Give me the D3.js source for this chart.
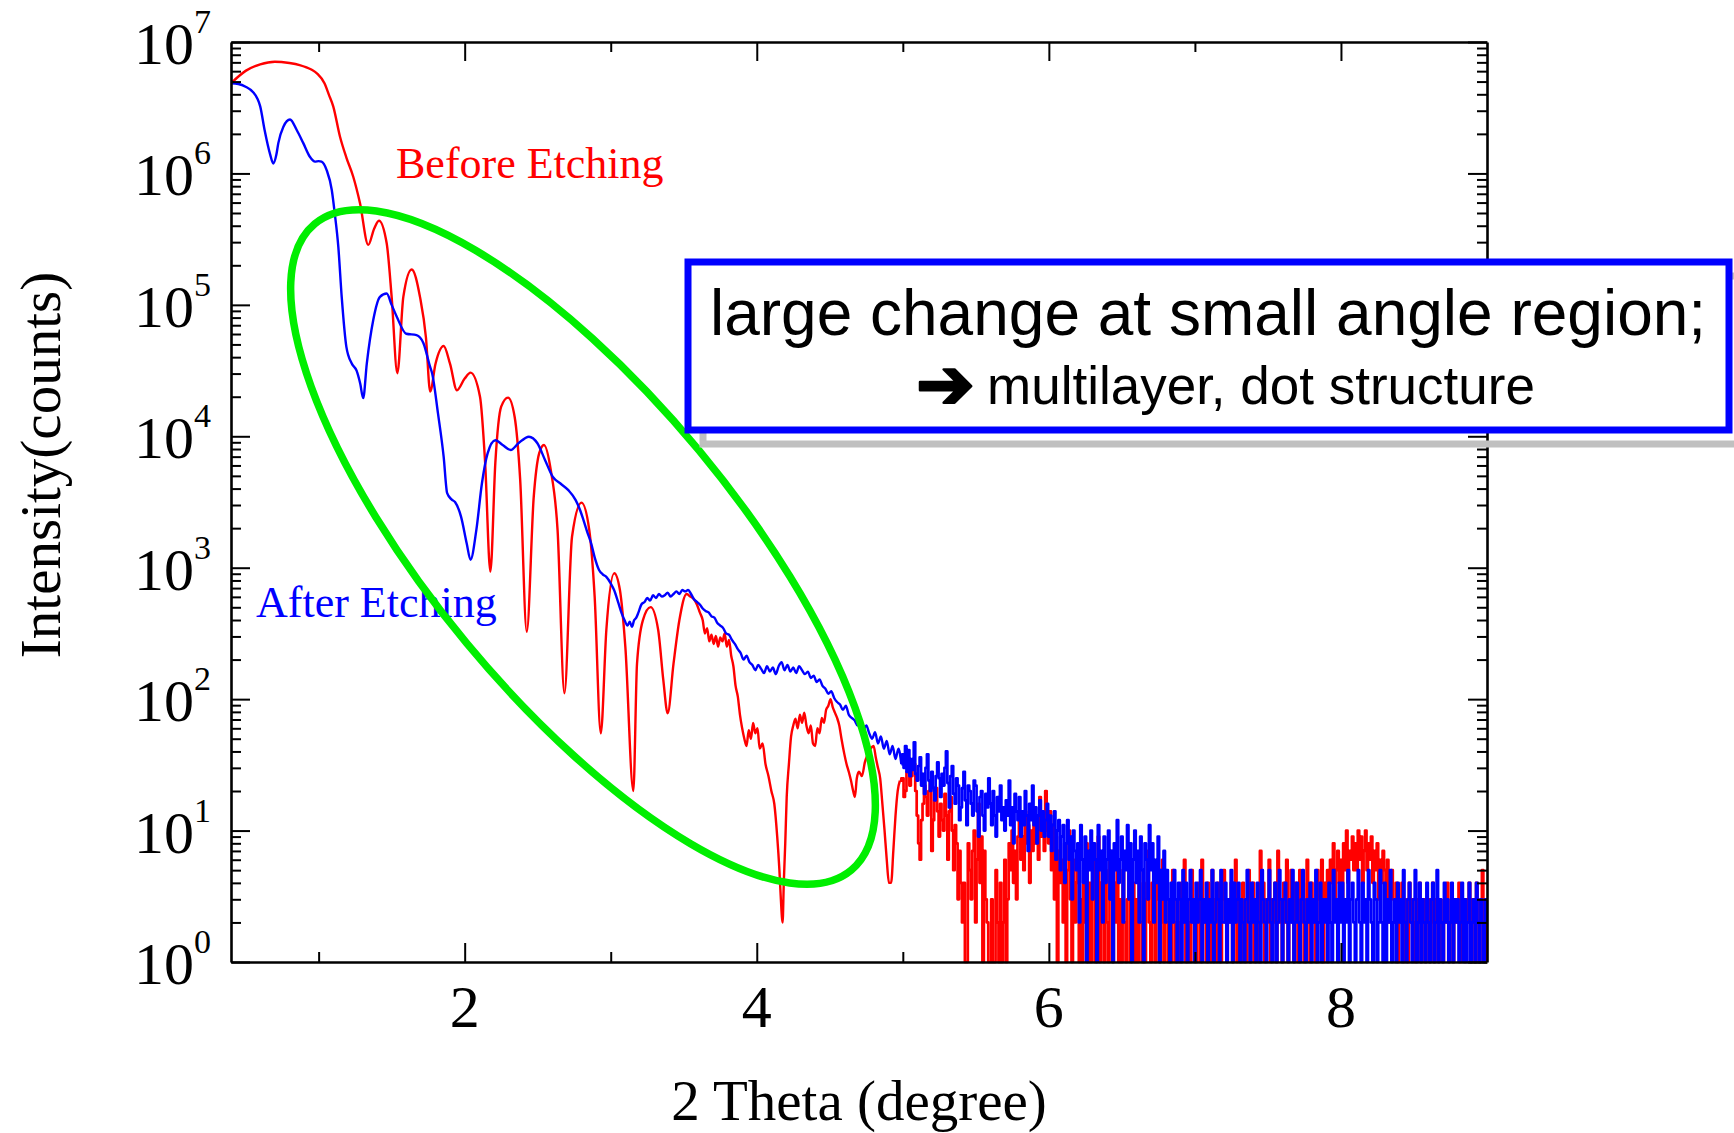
<!DOCTYPE html>
<html><head><meta charset="utf-8">
<script src="https://cdn.jsdelivr.net/npm/d3@7"></script>
<style>body{margin:0;background:#fff}svg{display:block}</style>
</head><body>
<svg id="chart" width="1734" height="1133"></svg>
<script>
// ---------- DATA (2 Theta in degrees, intensity in counts) ----------
const beforeEtching = [
 [0.40,4.85e6],[0.50,6.03e6],[0.60,6.76e6],[0.70,7.08e6],[0.80,6.92e6],[0.87,6.68e6],[0.95,6.17e6],[0.99,5.75e6],
 [1.04,4.85e6],[1.07,3.98e6],[1.10,3.24e6],[1.146,1.91e6],[1.19,1.32e6],[1.237,9.44e5],[1.283,5.96e5],[1.34,2.86e5],
 [1.38,3.80e5],[1.413,4.37e5],[1.466,2.94e5],[1.50,1.15e5],[1.539,3.02e4],[1.58,1.15e5],[1.637,1.86e5],[1.694,1.15e5],
 [1.735,5.62e4],[1.764,2.19e4],[1.80,3.55e4],[1.856,4.86e4],[1.90,3.55e4],[1.947,2.24e4],[2.00,2.75e4],[2.04,3.05e4],
 [2.105,2.0e4],[2.14,6310],[2.176,933],[2.21,6310],[2.25,1.68e4],[2.297,1.97e4],[2.342,1.41e4],[2.38,4680],[2.425,326],
 [2.473,3470],[2.51,7410],[2.543,8590],[2.59,5500],[2.636,1940],[2.683,111],[2.735,1720],[2.80,3130],[2.853,1940],
 [2.89,603],[2.932,55],[2.97,336],[3.024,908],[3.063,676],[3.10,251],[3.155,20],[3.18,186],[3.22,398],[3.273,501],
 [3.325,336],[3.36,140],[3.39,78],[3.43,186],[3.47,398],[3.52,631],
 [3.545,603],[3.57,575],[3.59,525],[3.61,457],[3.63,398],[3.645,316],[3.66,347],[3.675,275],[3.69,309],[3.705,263],
 [3.72,302],[3.735,251],[3.75,295],[3.765,275],[3.78,316],[3.795,251],[3.81,282],[3.825,214],[3.84,178],[3.855,126],
 [3.87,105],[3.885,76],[3.90,60],[3.915,50],[3.93,44],[3.945,58],[3.96,50],[3.975,66],[3.99,55],[4.005,60],[4.02,42],
 [4.04,46],[4.06,32],[4.08,26],[4.10,20],[4.12,16],[4.14,9],[4.155,5],[4.165,3],[4.177,2],[4.185,4],[4.195,8],[4.205,18],
 [4.22,32],[4.235,52],[4.25,63],[4.265,71],[4.28,60],[4.295,76],[4.31,66],[4.325,79],[4.34,63],[4.355,55],[4.37,63],
 [4.385,46],[4.40,44],[4.415,60],[4.43,55],[4.445,72],[4.46,66],[4.475,83],[4.49,89],[4.505,100],[4.52,87],[4.535,79],
 [4.55,72],[4.565,63],[4.58,50],[4.60,38],[4.615,32],[4.63,28],[4.645,24],[4.66,20],[4.672,18],[4.685,25],[4.70,28],
 [4.72,26],[4.74,33],[4.76,38],[4.78,42],[4.80,44],[4.815,36],[4.83,30],[4.845,25],[4.86,16],[4.875,10],[4.89,6],
 [4.905,4],[4.92,4],[4.935,7],[4.95,13],[4.965,20],[4.98,24]
];
const afterEtching = [
 [0.40,4.85e6],[0.45,4.79e6],[0.50,4.57e6],[0.55,4.17e6],[0.58,3.72e6],[0.60,3.24e6],[0.63,2.14e6],[0.667,1.41e6],
 [0.69,1.19e6],[0.71,1.38e6],[0.724,1.70e6],[0.758,2.26e6],[0.804,2.57e6],[0.85,2.14e6],[0.895,1.70e6],[0.94,1.34e6],
 [0.975,1.23e6],[1.00,1.24e6],[1.02,1.23e6],[1.055,1.06e6],[1.09,7.48e5],[1.11,5.01e5],[1.135,2.75e5],[1.158,1.15e5],
 [1.19,4.79e4],[1.226,3.59e4],[1.26,3.16e4],[1.285,2.51e4],[1.305,1.95e4],[1.33,3.59e4],[1.374,7.67e4],[1.42,1.15e5],
 [1.466,1.22e5],[1.50,1.0e5],[1.535,8.13e4],[1.60,6.03e4],[1.67,5.89e4],[1.717,5.13e4],[1.763,3.39e4],[1.777,3.02e4],
 [1.817,1.50e4],[1.856,7000],[1.88,3690],[1.91,3310],[1.934,3160],[1.975,2450],[2.014,1530],[2.04,1150],[2.08,1940],
 [2.118,4370],[2.157,7410],[2.21,9330],[2.26,8590],[2.315,7870],[2.368,8850],[2.44,9930],[2.498,8850],[2.55,6610],
 [2.604,4900],[2.656,4370],[2.71,3890],[2.76,3270],[2.79,2750],[2.813,2310],[2.84,1860],[2.866,1530],[2.89,1200],
 [2.92,962],[2.945,891],[2.97,851],[3.00,759],[3.023,676],[3.05,550],[3.075,450],[3.095,398],[3.115,363],[3.13,389],
 [3.145,355],[3.16,398],[3.175,417],[3.19,457],[3.21,525],[3.233,550],[3.25,589],[3.27,562],[3.29,617],[3.31,589],
 [3.33,631],[3.35,603],[3.37,617],[3.39,646],[3.41,603],[3.43,631],[3.45,661],[3.47,631],[3.49,676],[3.51,661],
 [3.53,676],[3.55,631],[3.57,575],[3.59,550],[3.61,525],[3.63,490],[3.65,468],[3.67,457],[3.69,427],[3.71,417],
 [3.73,380],[3.75,363],[3.77,347],[3.79,316],[3.81,309],[3.83,282],[3.85,263],[3.87,240],[3.89,224],[3.91,200],
 [3.93,214],[3.95,191],[3.97,182],[3.99,166],[4.01,182],[4.03,170],[4.05,158],[4.07,178],[4.09,162],[4.11,174],
 [4.13,155],[4.15,178],[4.17,191],[4.19,166],[4.21,182],[4.23,162],[4.25,174],[4.27,158],[4.29,178],[4.31,166],
 [4.33,155],[4.35,162],[4.37,145],[4.39,151],[4.41,135],[4.43,141],[4.45,126],[4.47,120],[4.49,110],[4.51,115],
 [4.53,102],[4.55,95],[4.57,91],[4.59,83],[4.61,89],[4.63,76],[4.65,72],[4.67,69],[4.69,63],[4.71,68],[4.73,59],
 [4.75,63],[4.77,55],[4.79,50],[4.81,56],[4.83,46],[4.85,52],[4.87,42],[4.89,48],[4.91,38],[4.93,44],[4.95,35],
 [4.97,42],[4.99,32]
];
// noisy high-angle part: detector counts, one reading every 0.01 deg from 5.00 to 9.00 deg
const tailStart = 5.00, tailStep = 0.01;
const beforeTail = [
 25,18,20,28,32,22,26,30,32,20, 13,8,6,12,16,22,18,13,20,24, 7,12,17,21,14,9,16,12,10,19, 13,6,14,18,10,5,11,8,3,7,
 4,2,4,1,1,8,5,3,7,10, 2,6,16,4,9,1,7,3,2,1,
 1,3,1,1,5,2,1,4,1,2, 6,1,3,8,5,10,4,7,3,9, 12,6,9,5,14,8,11,4,10,7, 15,8,12,6,18,9,13,7,20,10,
 8,14,5,11,3,9,1,7,4,6, 2,8,1,5,10,3,1,6,2,4, 7,1,3,1,5,2,8,1,4,1, 3,6,1,2,9,1,4,2,1,5,
 2,1,7,3,1,4,2,6,1,3, 1,5,2,1,3,8,1,2,4,1, 3,1,6,2,1,4,1,3,7,2, 1,4,2,1,5,3,1,2,6,1,
 4,2,1,3,1,5,2,1,3,2, 1,4,2,6,1,3,2,1,5,2, 3,1,2,4,1,6,2,3,1,4, 2,1,5,2,3,1,4,2,1,3,
 5,2,1,3,2,4,1,2,6,1, 3,2,1,4,2,1,3,5,1,2, 4,1,2,3,1,7,2,4,1,3, 2,6,1,3,2,4,1,7,2,3,
 1,4,2,6,1,3,5,2,1,4, 3,1,5,2,4,1,3,6,2,1, 4,2,3,1,5,3,2,6,1,4, 3,5,2,6,4,8,3,5,7,4,
 6,3,8,5,10,4,7,6,9,5, 8,5,10,6,9,4,7,10,5,8, 6,9,4,7,5,8,3,6,4,7, 5,3,6,2,4,5,3,2,4,1,
 3,2,4,1,3,2,1,4,2,3, 2,1,3,2,4,1,2,3,1,2, 3,1,2,4,1,3,2,1,3,2, 1,3,2,4,1,2,3,1,2,3,
 2,4,1,3,2,1,3,2,4,1, 3,2,1,4,2,1,3,5,2,1,3
];
const afterTail = [
 38,30,44,28,41,26,35,29,47,27, 24,31,36,22,27,19,30,38,24,20, 28,21,17,26,33,25,18,27,22,30, 40,23,15,26,31,19,16,25,22,12,
 15,21,28,17,11,22,20,16,13,24, 22,14,9,18,20,13,10,19,15,25,
 16,11,20,13,9,18,14,22,12,15, 10,17,13,24,11,15,8,19,14,12, 18,9,14,11,20,13,7,16,12,22, 11,15,8,13,17,10,14,9,12,16,
 9,13,7,11,14,6,10,12,5,9, 11,4,8,12,6,9,3,10,7,5, 8,2,11,6,4,9,1,7,5,10, 3,8,6,1,11,5,7,2,9,4,
 6,10,3,7,1,8,5,12,4,6, 9,2,7,5,11,3,8,1,6,10, 4,7,2,9,5,1,8,6,3,11, 5,8,2,6,4,9,1,5,3,7,
 2,5,3,1,4,2,5,3,1,4, 3,1,5,2,4,1,3,5,2,3, 1,4,2,3,5,1,3,2,4,1, 3,2,5,1,2,4,3,1,5,2,
 2,4,1,3,2,5,1,4,2,3, 4,1,3,2,1,3,5,2,1,4, 2,3,1,4,2,1,5,3,2,1, 3,5,2,1,3,4,1,2,5,3,
 1,3,4,2,1,3,2,5,1,2, 4,2,1,3,5,2,1,3,2,4, 1,3,2,5,1,2,4,1,3,2, 3,1,4,2,1,5,2,3,1,4,
 2,4,1,3,2,5,1,3,4,2, 1,3,5,2,1,4,2,3,1,5, 3,2,1,4,3,1,2,5,2,1, 4,1,3,2,5,1,2,3,1,4,
 2,3,1,5,2,1,3,4,2,1, 3,5,1,2,4,1,3,2,1,4, 2,1,3,4,1,2,5,1,3,2, 1,4,2,3,1,2,4,1,3,2,
 3,1,2,4,1,3,1,2,4,1, 2,3,1,4,2,1,3,2,1,3,2
];
const xTickValues = [2, 4, 6, 8];
const xMinorValues = [1, 3, 5, 7];
const xTickLabels = ["2", "4", "6", "8"];
const yDecades = [0, 1, 2, 3, 4, 5, 6, 7];
const seriesNames = ["Before Etching", "After Etching"];
const xTitle = "2 Theta (degree)";
const yTitle = "Intensity(counts)";
const noteLine1 = "large change at small angle region;";
const noteArrow = "\u2794";
const noteLine2 = "multilayer, dot structure";

// ---------- CHART ----------
const W = 1734, H = 1133;
const M = {left: 231, right: 1487, top: 42, bottom: 962};
const serif = "'Liberation Serif','Times New Roman',serif";
const sans = "'Liberation Sans',Arial,sans-serif";
const svg = d3.select('#chart');
svg.append('rect').attr('width', W).attr('height', H).attr('fill', '#fff');

const x = d3.scaleLinear().domain([0.4, 9]).range([M.left, M.right]);
const y = d3.scaleLog().domain([1, 1e7]).range([M.bottom, M.top]).clamp(true);

svg.append('defs').append('clipPath').attr('id', 'plot')
  .append('rect').attr('x', M.left).attr('y', M.top).attr('width', M.right - M.left).attr('height', M.bottom - M.top + 2);

const series = [
  {name: seriesNames[0], color: '#ff0000', head: beforeEtching, tail: beforeTail},
  {name: seriesNames[1], color: '#0000ff', head: afterEtching, tail: afterTail}
];
const px = d => x(d[0]), py = d => y(Math.max(1, d[1]));
const smoothLine = d3.line().x(px).y(py).curve(d3.curveMonotoneX);
const noisyLine = d3.line().x(px).y(py).curve(d3.curveStep);

const plot = svg.append('g').attr('clip-path', 'url(#plot)');
series.forEach(s => {
  const g = plot.append('g').attr('fill', 'none').attr('stroke', s.color).attr('stroke-linejoin', 'round');
  g.append('path').attr('stroke-width', 2.4).attr('d', smoothLine(s.head));
  const tailPts = [s.head[s.head.length - 1]].concat(s.tail.map((c, i) => [tailStart + i * tailStep, c]));
  g.append('path').attr('stroke-width', 2.7).attr('d', noisyLine(tailPts));
});

// axes (all ticks point inward)
const yMajor = yDecades.map(e => Math.pow(10, e));
const yMinor = [];
yDecades.slice(0, -1).forEach(e => { for (let m = 2; m <= 9; m++) yMinor.push(m * Math.pow(10, e)); });
function addAxis(gen, scale, values, size, tr, withDomain) {
  const g = svg.append('g').attr('transform', tr)
    .call(gen(scale).tickValues(values).tickSize(-size).tickSizeOuter(0).tickFormat(''));
  g.selectAll('.tick text').remove();
  g.selectAll('.tick line').attr('stroke', '#000').attr('stroke-width', 2);
  if (withDomain) g.select('.domain').attr('stroke', '#000').attr('stroke-width', 2.6);
  else g.select('.domain').remove();
}
addAxis(d3.axisLeft, y, yMajor, 19, `translate(${M.left},0)`, true);
addAxis(d3.axisLeft, y, yMinor, 10, `translate(${M.left},0)`, false);
addAxis(d3.axisRight, y, yMajor, 19, `translate(${M.right},0)`, true);
addAxis(d3.axisRight, y, yMinor, 10, `translate(${M.right},0)`, false);
addAxis(d3.axisBottom, x, xTickValues, 19, `translate(0,${M.bottom})`, true);
addAxis(d3.axisBottom, x, xMinorValues, 10, `translate(0,${M.bottom})`, false);
addAxis(d3.axisTop, x, xTickValues, 19, `translate(0,${M.top})`, true);
addAxis(d3.axisTop, x, xMinorValues, 10, `translate(0,${M.top})`, false);

// y tick labels 10^n
const yl = svg.append('g').attr('font-family', serif).attr('fill', '#000');
yl.selectAll('text.base').data(yDecades).join('text').attr('class', 'base')
  .attr('x', 194).attr('y', e => y(Math.pow(10, e)) + 22).attr('text-anchor', 'end')
  .attr('font-size', 60).text('10');
yl.selectAll('text.sup').data(yDecades).join('text').attr('class', 'sup')
  .attr('x', 194).attr('y', e => y(Math.pow(10, e)) - 9).attr('text-anchor', 'start')
  .attr('font-size', 34).text(e => String(e));

// x tick labels
svg.append('g').attr('font-family', serif).selectAll('text').data(xTickValues).join('text')
  .attr('x', d => x(d)).attr('y', 1027).attr('text-anchor', 'middle').attr('font-size', 60)
  .text((d, i) => xTickLabels[i]);

// axis titles
svg.append('text').attr('x', (M.left + M.right) / 2).attr('y', 1120).attr('text-anchor', 'middle')
  .attr('font-family', serif).attr('font-size', 57).text(xTitle);
svg.append('text').attr('transform', 'translate(60,465) rotate(-90)').attr('text-anchor', 'middle')
  .attr('font-family', serif).attr('font-size', 57).text(yTitle);

// series labels
svg.append('text').attr('x', 396).attr('y', 178).attr('font-family', serif).attr('font-size', 44)
  .attr('fill', series[0].color).text(series[0].name);
svg.append('text').attr('x', 256).attr('y', 617).attr('font-family', serif).attr('font-size', 44)
  .attr('fill', series[1].color).text(series[1].name);

// green highlight ellipse
svg.append('ellipse').attr('cx', 583).attr('cy', 547).attr('rx', 420).attr('ry', 151)
  .attr('transform', 'rotate(50.3 583 547)').attr('fill', 'none')
  .attr('stroke', '#00ee00').attr('stroke-width', 7.5);

// annotation box with shadow
svg.append('rect').attr('x', 703).attr('y', 276).attr('width', 1041).attr('height', 168)
  .attr('fill', 'none').attr('stroke', '#c0c0c0').attr('stroke-width', 7);
svg.append('rect').attr('x', 688).attr('y', 262).attr('width', 1041).attr('height', 168)
  .attr('fill', '#fff').attr('stroke', '#0000ff').attr('stroke-width', 7);
svg.append('text').attr('x', 1208).attr('y', 335).attr('text-anchor', 'middle')
  .attr('font-family', sans).attr('font-size', 64).attr('fill', '#000').text(noteLine1);
svg.append('text').attr('x', 916).attr('y', 408).attr('font-family', "'DejaVu Sans',sans-serif")
  .attr('font-size', 70).attr('font-weight', 'bold').attr('fill', '#000')
  .attr('stroke', '#000').attr('stroke-width', 2.5).attr('stroke-linejoin', 'round').text(noteArrow);
svg.append('text').attr('x', 987).attr('y', 404)
  .attr('font-family', sans).attr('font-size', 53).attr('fill', '#000').text(noteLine2);
</script>
</body></html>
